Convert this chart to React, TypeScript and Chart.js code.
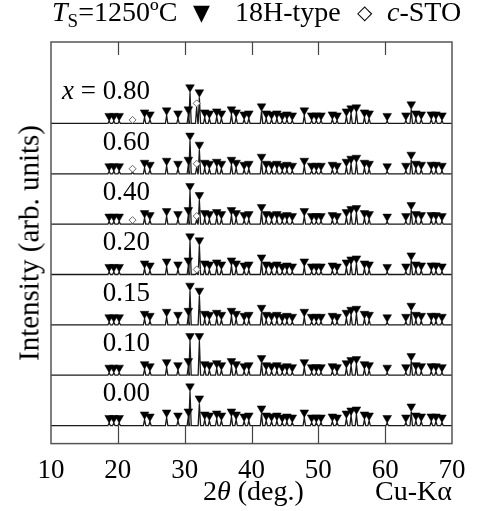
import React, { useEffect, useRef } from "react";
import { Chart, registerables } from "chart.js";
Chart.register(...registerables);

// ---- data ----
const panelLabels = ["0.00", "0.10", "0.15", "0.20", "0.40", "0.60", "0.80"];
const mainPeakPositions = [30.8, 32.2];
const mainPeak1Heights = [0.68, 0.68, 0.68, 0.66, 0.66, 0.66, 0.62];
const mainPeak2Heights = [0.44, 0.68, 0.58, 0.58, 0.48, 0.48, 0.52];
const minorPeakPositions = [18.7, 19.4, 20.2, 24.0, 24.8, 27.3, 29.0, 30.55, 33.0, 33.7, 34.8, 35.5, 37.0, 37.7, 38.9, 39.6, 41.5, 42.2, 43.0, 43.8, 44.6, 45.3, 46.1, 47.9, 49.0, 49.7, 50.4, 52.1, 52.8, 54.2, 54.9, 55.7, 56.9, 57.6, 60.3, 63.1, 63.9, 64.6, 65.4, 66.9, 67.6, 68.5];
const minorPeakHeights = [0.05, 0.05, 0.05, 0.12, 0.08, 0.16, 0.1, 0.18, 0.12, 0.1, 0.14, 0.1, 0.18, 0.12, 0.08, 0.1, 0.24, 0.1, 0.08, 0.1, 0.06, 0.08, 0.06, 0.16, 0.06, 0.06, 0.06, 0.08, 0.06, 0.14, 0.2, 0.22, 0.12, 0.1, 0.05, 0.06, 0.28, 0.1, 0.08, 0.08, 0.08, 0.06];
const stoPeakPositions = [22.2, 31.8];
const sto1Heights: (number | null)[] = [null, null, null, null, 0.01, 0.03, 0.0];
const sto2Heights: (number | null)[] = [null, null, null, 0.03, 0.09, 0.13, 0.33];
const xTickValues = [10, 20, 30, 40, 50, 60, 70];

// ---- layout constants ----
const PANEL_BASE = 0.36;
const PANEL_STEP = 1.003;
const PEAK_HALF_WIDTH = 0.18;
const TRI_RADIUS = 5;
const TRI_OFFSET = 0.1;
const DIA_OFFSET = 0.07;
const LABEL_X = 17.75;
const LABEL_DY = 0.62;
const SERIF = '"Liberation Serif", "Times New Roman", serif';

const decorPlugin = {
  id: "decor",
  afterDatasetsDraw(chart: any) {
    const { ctx, chartArea: a, scales } = chart;
    const x = scales.x, y = scales.y;
    ctx.save();
    ctx.strokeStyle = "#555";
    ctx.lineWidth = 1.5;
    ctx.strokeRect(a.left, a.top, a.right - a.left, a.bottom - a.top);
    ctx.lineWidth = 1.2;
    ctx.strokeStyle = "#444";
    xTickValues.slice(1, -1).forEach((v) => {
      const px = Math.round(x.getPixelForValue(v)) + 0.5;
      ctx.beginPath();
      ctx.moveTo(px, a.top);
      ctx.lineTo(px, a.top + 13);
      ctx.moveTo(px, a.bottom);
      ctx.lineTo(px, a.bottom - 18);
      ctx.stroke();
    });
    ctx.fillStyle = "#000";
    ctx.textBaseline = "middle";
    panelLabels.forEach((t, i) => {
      const px = x.getPixelForValue(LABEL_X);
      const py = y.getPixelForValue(PANEL_BASE + i * PANEL_STEP + LABEL_DY);
      ctx.font = `27px ${SERIF}`;
      ctx.textAlign = "left";
      ctx.fillText(t, px, py);
      if (i === panelLabels.length - 1) {
        ctx.textAlign = "right";
        const eq = " = ";
        ctx.fillText(eq, px, py);
        const w = ctx.measureText(eq).width;
        ctx.font = `italic 27px ${SERIF}`;
        ctx.fillText("x", px - w, py);
      }
    });
    ctx.restore();
  },
};

export default function App() {
  const ref = useRef<HTMLCanvasElement>(null);
  useEffect(() => {
    if (!ref.current) return;
    const lineSets: any[] = [];
    const triPts: { x: number; y: number }[] = [];
    const diaPts: { x: number; y: number }[] = [];
    panelLabels.forEach((_, i) => {
      const b = PANEL_BASE + i * PANEL_STEP;
      const peaks: { p: number; h: number }[] = [];
      minorPeakPositions.forEach((p, k) => {
        peaks.push({ p, h: minorPeakHeights[k] });
        triPts.push({ x: p, y: b + minorPeakHeights[k] + TRI_OFFSET });
      });
      peaks.push({ p: mainPeakPositions[0], h: mainPeak1Heights[i] });
      triPts.push({ x: mainPeakPositions[0], y: b + mainPeak1Heights[i] + TRI_OFFSET });
      peaks.push({ p: mainPeakPositions[1], h: mainPeak2Heights[i] });
      triPts.push({ x: mainPeakPositions[1], y: b + mainPeak2Heights[i] + TRI_OFFSET });
      const s1 = sto1Heights[i], s2 = sto2Heights[i];
      if (s1 !== null) {
        peaks.push({ p: stoPeakPositions[0], h: s1 });
        diaPts.push({ x: stoPeakPositions[0], y: b + s1 + DIA_OFFSET });
      }
      if (s2 !== null) {
        peaks.push({ p: stoPeakPositions[1], h: s2 });
        diaPts.push({ x: stoPeakPositions[1], y: b + s2 + DIA_OFFSET });
      }
      peaks.sort((u, v) => u.p - v.p);
      const data: { x: number; y: number }[] = [{ x: 10, y: b }];
      peaks.forEach(({ p, h }) => {
        data.push({ x: p - PEAK_HALF_WIDTH, y: b });
        data.push({ x: p, y: b + h });
        data.push({ x: p + PEAK_HALF_WIDTH, y: b });
      });
      data.push({ x: 70, y: b });
      lineSets.push({
        type: "line",
        data,
        borderColor: "#1a1a1a",
        borderWidth: 1.3,
        pointRadius: 0,
        fill: false,
        tension: 0,
        order: 2,
      });
    });

    const chart = new Chart(ref.current, {
      type: "scatter",
      data: {
        datasets: [
          ...lineSets,
          {
            type: "scatter",
            data: triPts,
            pointStyle: "triangle",
            rotation: 180,
            pointRadius: TRI_RADIUS,
            backgroundColor: "#000",
            borderColor: "#000",
            borderWidth: 0.5,
            order: 0,
          },
          {
            type: "scatter",
            data: diaPts,
            pointStyle: "rectRot",
            pointRadius: 3.5,
            backgroundColor: "#fff",
            borderColor: "#666",
            borderWidth: 1,
            order: 1,
          },
        ],
      } as any,
      options: {
        responsive: false,
        animation: false,
        devicePixelRatio: 1,
        layout: { padding: { left: 51, right: 34, top: 42, bottom: 13 } },
        plugins: { legend: { display: false }, tooltip: { enabled: false } },
        scales: {
          x: {
            type: "linear",
            min: 10,
            max: 70,
            grid: { display: false, drawTicks: false },
            border: { display: false },
            afterBuildTicks: (s: any) => {
              s.ticks = xTickValues.map((v) => ({ value: v }));
            },
            ticks: {
              autoSkip: false,
              maxRotation: 0,
              padding: 11,
              color: "#000",
              font: { family: SERIF, size: 27 },
            },
          },
          y: { type: "linear", min: 0, max: 8, display: false },
        },
      },
      plugins: [decorPlugin],
    } as any);
    return () => chart.destroy();
  }, []);

  const base: React.CSSProperties = {
    position: "absolute",
    fontFamily: SERIF,
    fontSize: 28,
    lineHeight: 1,
    whiteSpace: "nowrap",
    color: "#000",
  };
  return (
    <div style={{ position: "absolute", left: 0, top: 0, width: 486, height: 511, background: "#fff" }}>
      <canvas ref={ref} width={486} height={511} style={{ display: "block" }} />
      <span style={{ ...base, left: 52, top: -2 }}>
        <i>T</i>
        <span style={{ fontSize: 19, position: "relative", top: 6 }}>S</span>=1250ºC
      </span>
      <span style={{ ...base, left: 193, top: 2, fontSize: 22, fontFamily: '"DejaVu Sans", sans-serif' }}>▼</span>
      <span style={{ ...base, left: 235, top: -2 }}>18H-type</span>
      <span style={{ ...base, left: 357, top: 2, fontSize: 20, fontFamily: '"DejaVu Sans", sans-serif' }}>◇</span>
      <span style={{ ...base, left: 387, top: -2 }}>
        <i>c</i>-STO
      </span>
      <span
        style={{
          ...base,
          fontSize: 29,
          left: 29,
          top: 243,
          transform: "translate(-50%, -50%) rotate(-90deg)",
        }}
      >
        Intensity (arb. units)
      </span>
      <span style={{ ...base, left: 203, top: 477 }}>
        2<i>θ</i> (deg.)
      </span>
      <span style={{ ...base, right: 486 - 452, top: 477 }}>Cu-Kα</span>
    </div>
  );
}
